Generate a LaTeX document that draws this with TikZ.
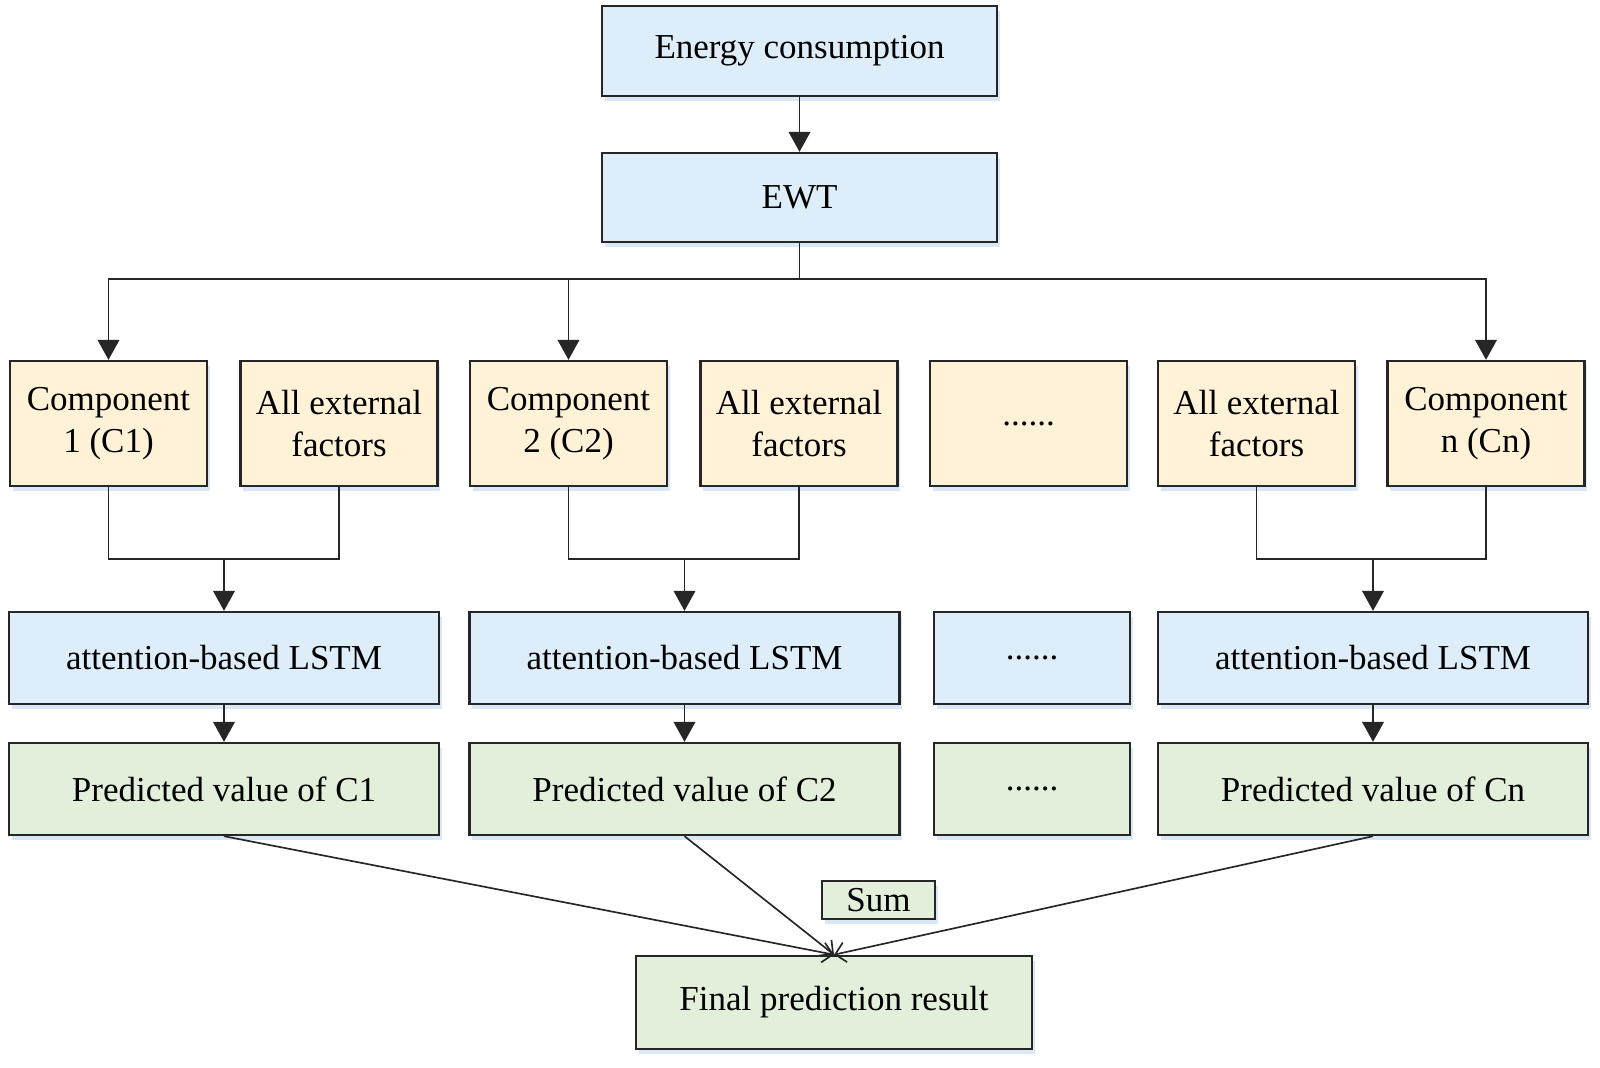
\documentclass[tikz,border=0pt]{standalone}
\usepackage{fontspec}
\setmainfont{Liberation Serif}
\usetikzlibrary{arrows.meta,shadows}

\definecolor{boxblue}{RGB}{221,238,250}
\definecolor{boxyellow}{RGB}{255,242,214}
\definecolor{boxgreen}{RGB}{226,239,218}
\definecolor{shade}{RGB}{170,205,235}

\tikzset{
  box/.style={draw=black!85, line width=0.7pt, align=center, inner sep=0pt,
    font=\fontsize{10.5}{12.6}\selectfont,
    drop shadow={shadow xshift=0.8pt, shadow yshift=-1.5pt, fill=shade, opacity=0.45}},
  bluebox/.style={box, fill=boxblue},
  yellowbox/.style={box, fill=boxyellow, minimum width=59.1pt, minimum height=37.5pt},
  greenbox/.style={box, fill=boxgreen},
  wire/.style={line width=0.5pt, draw=black!85},
  arr/.style={wire, -{Triangle[length=6pt,width=6.5pt]}},
  sumline/.style={wire, -{Straight Barb[length=3pt,width=6pt]}},
}

\begin{document}
\begin{tikzpicture}[x=0.3pt,y=0.3pt,yscale=-1,xscale=1]
\useasboundingbox (0,0) rectangle (1600,1067);

% top
\node[bluebox, minimum width=118.5pt, minimum height=27pt] (energy) at (799.5,51) {Energy consumption};
\node[bluebox, minimum width=118.5pt, minimum height=26.7pt] (ewt) at (799.5,197.5) {EWT};

% components and external factors
\node[yellowbox] (c1) at (108.5,423.5) {Component\\1 (C1)};
\node[yellowbox] (ext1) at (339,423.5) {All external\\factors};
\node[yellowbox] (c2) at (568.5,423.5) {Component\\2 (C2)};
\node[yellowbox] (ext2) at (799,423.5) {All external\\factors};
\node[yellowbox] (dots1) at (1028.5,423.5) {......};
\node[yellowbox] (extn) at (1256.5,423.5) {All external\\factors};
\node[yellowbox] (cn) at (1486,423.5) {Component\\n (Cn)};

% attention-based LSTM
\node[bluebox, minimum width=129pt, minimum height=27.6pt] (lstm1) at (224,658) {attention-based LSTM};
\node[bluebox, minimum width=129pt, minimum height=27.6pt] (lstm2) at (684.5,658) {attention-based LSTM};
\node[bluebox, minimum width=58.8pt, minimum height=27.6pt] (dots2) at (1032,658) {......};
\node[bluebox, minimum width=129pt, minimum height=27.6pt] (lstmn) at (1373,658) {attention-based LSTM};

% predicted values
\node[greenbox, minimum width=129pt, minimum height=27.6pt] (pred1) at (224,789) {Predicted value of C1};
\node[greenbox, minimum width=129pt, minimum height=27.6pt] (pred2) at (684.5,789) {Predicted value of C2};
\node[greenbox, minimum width=58.8pt, minimum height=27.6pt] (dots3) at (1032,789) {......};
\node[greenbox, minimum width=129pt, minimum height=27.6pt] (predn) at (1373,789) {Predicted value of Cn};

% result
\node[greenbox, minimum width=34pt, minimum height=11.4pt] (sum) at (878.5,900) {Sum};
\node[greenbox, minimum width=118.8pt, minimum height=28pt] (final) at (834,1002.5) {Final prediction result};

% connectors
\coordinate (bus) at (799.5,279);
\coordinate (j1) at (224,559);
\coordinate (j2) at (684.5,559);
\coordinate (jn) at (1373,559);

\draw[arr] (energy) -- (ewt);
\draw[wire] (ewt.south) -- (bus);
\draw[arr] (bus) -| (c1);
\draw[arr] (bus) -| (c2);
\draw[arr] (bus) -| (cn);

\draw[wire] (c1.south) |- (j1) -| (ext1.south);
\draw[wire] (c2.south) |- (j2) -| (ext2.south);
\draw[wire] (extn.south) |- (jn) -| (cn.south);
\draw[arr] (j1) -- (lstm1);
\draw[arr] (j2) -- (lstm2);
\draw[arr] (jn) -- (lstmn);

\draw[arr] (lstm1) -- (pred1);
\draw[arr] (lstm2) -- (pred2);
\draw[arr] (lstmn) -- (predn);

\draw[sumline] (pred1.south) -- (final.north);
\draw[sumline] (pred2.south) -- (final.north);
\draw[sumline] (predn.south) -- (final.north);

\end{tikzpicture}
\end{document}
